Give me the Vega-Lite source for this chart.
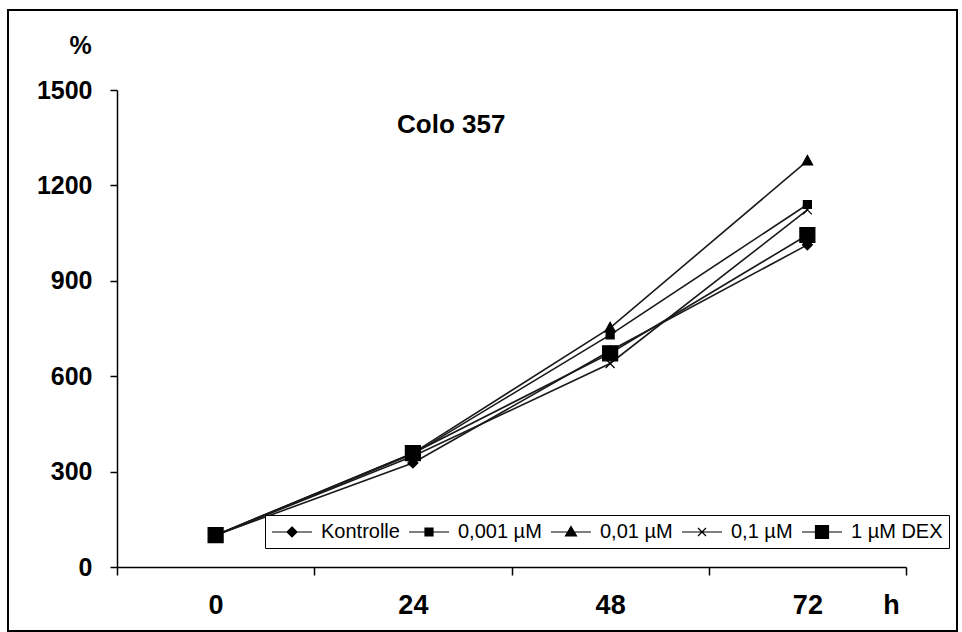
{
  "$schema": "https://vega.github.io/schema/vega-lite/v6.json",
  "autosize": {"type": "none"},
  "width": 949,
  "height": 621,
  "padding": {"left": 8, "top": 10, "right": 5, "bottom": 1},
  "background": "white",
  "config": {
    "view": {"stroke": "black", "strokeWidth": 2},
    "font": "Liberation Sans"
  },
  "title": {
    "text": "Colo 357",
    "anchor": "start",
    "frame": "group",
    "orient": "top",
    "offset": 0,
    "dx": 389,
    "dy": 149,
    "baseline": "alphabetic",
    "fontSize": 26,
    "fontWeight": "bold",
    "font": "Liberation Sans",
    "color": "black"
  },
  "data": {
    "values": [
      {"h": "0", "series": "Kontrolle", "v": 100},
      {"h": "24", "series": "Kontrolle", "v": 327},
      {"h": "48", "series": "Kontrolle", "v": 680},
      {"h": "72", "series": "Kontrolle", "v": 1013},
      {"h": "0", "series": "0,001 µM", "v": 100},
      {"h": "24", "series": "0,001 µM", "v": 355},
      {"h": "48", "series": "0,001 µM", "v": 730},
      {"h": "72", "series": "0,001 µM", "v": 1140},
      {"h": "0", "series": "0,01 µM", "v": 100},
      {"h": "24", "series": "0,01 µM", "v": 358},
      {"h": "48", "series": "0,01 µM", "v": 752},
      {"h": "72", "series": "0,01 µM", "v": 1277},
      {"h": "0", "series": "0,1 µM", "v": 100},
      {"h": "24", "series": "0,1 µM", "v": 348},
      {"h": "48", "series": "0,1 µM", "v": 640},
      {"h": "72", "series": "0,1 µM", "v": 1123},
      {"h": "0", "series": "1 µM DEX", "v": 100},
      {"h": "24", "series": "1 µM DEX", "v": 358},
      {"h": "48", "series": "1 µM DEX", "v": 672},
      {"h": "72", "series": "1 µM DEX", "v": 1044}
    ]
  },
  "encoding": {
    "x": {
      "field": "h",
      "type": "ordinal",
      "sort": ["0", "24", "48", "72"],
      "bandPosition": 0.5,
      "scale": {"type": "band", "range": [109, 898], "paddingInner": 0, "paddingOuter": 0},
      "axis": {
        "orient": "bottom",
        "offset": -64,
        "domainColor": "black",
        "domainWidth": 1.5,
        "tickColor": "black",
        "tickWidth": 1.5,
        "tickSize": 8,
        "tickBand": "extent",
        "labelAngle": 0,
        "labelFont": "Liberation Sans",
        "labelFontSize": 27,
        "labelFontWeight": "bold",
        "labelColor": "black",
        "labelBaseline": "alphabetic",
        "labelPadding": 38,
        "title": "h",
        "titleX": 883,
        "titleY": 46,
        "titleAlign": "center",
        "titleBaseline": "alphabetic",
        "titleFont": "Liberation Sans",
        "titleFontSize": 27,
        "titleFontWeight": "bold",
        "titleColor": "black",
        "grid": false
      }
    },
    "y": {
      "field": "v",
      "type": "quantitative",
      "scale": {"domain": [0, 1500], "range": [557, 80], "nice": false, "zero": true},
      "axis": {
        "orient": "left",
        "offset": -109,
        "values": [0, 300, 600, 900, 1200, 1500],
        "format": "d",
        "domainColor": "black",
        "domainWidth": 1.5,
        "tickColor": "black",
        "tickWidth": 1.5,
        "tickSize": 7,
        "labelFont": "Liberation Sans",
        "labelFontSize": 25,
        "labelFontWeight": "bold",
        "labelColor": "black",
        "labelPadding": 18,
        "title": "%",
        "titleAngle": 0,
        "titleX": -37,
        "titleY": 43,
        "titleAlign": "center",
        "titleBaseline": "alphabetic",
        "titleFont": "Liberation Sans",
        "titleFontSize": 25,
        "titleFontWeight": "bold",
        "titleColor": "black",
        "grid": false
      }
    }
  },
  "layer": [
    {
      "mark": {"type": "line", "color": "#1a1a1a", "strokeWidth": 1.6},
      "encoding": {"detail": {"field": "series", "type": "nominal"}}
    },
    {
      "mark": {"type": "point", "filled": true, "fill": "black", "stroke": "black", "strokeWidth": 1.2, "opacity": 1, "size": 100},
      "encoding": {
        "shape": {
          "field": "series",
          "type": "nominal",
          "scale": {
            "domain": ["Kontrolle", "0,001 µM", "0,01 µM", "0,1 µM", "1 µM DEX"],
            "range": [
              "M0,-1L1,0L0,1L-1,0Z",
              "M-0.8,-0.8H0.8V0.8H-0.8Z",
              "M0,-1.1L1.05,0.8H-1.05Z",
              "M-0.9,-0.9L0.9,0.9M-0.9,0.9L0.9,-0.9",
              "M-1.5,-1.5H1.5V1.5H-1.5Z"
            ]
          },
          "legend": null
        }
      }
    },
    {
      "transform": [{"filter": "datum.v < 0"}],
      "mark": {"type": "point", "filled": false, "fill": "black", "stroke": "black", "strokeWidth": 1.2, "opacity": 1, "size": 400},
      "encoding": {
        "shape": {
          "field": "series",
          "type": "nominal",
          "scale": {
            "domain": ["Kontrolle", "0,001 µM", "0,01 µM", "0,1 µM", "1 µM DEX"],
            "range": [
              "M-1,0H3M1,-0.5L1.5,0L1,0.5L0.5,0Z",
              "M-1,0H3M0.6,-0.4H1.4V0.4H0.6Z",
              "M-1,0H3M1,-0.55L1.55,0.4H0.45Z",
              "M-1,0H3M0.6,-0.4L1.4,0.4M0.6,0.4L1.4,-0.4",
              "M-1,0H3M0.35,-0.65H1.65V0.65H0.35Z"
            ]
          },
          "legend": {
            "orient": "none",
            "legendX": 257,
            "legendY": 505,
            "direction": "horizontal",
            "columns": 5,
            "title": null,
            "strokeColor": "black",
            "fillColor": "white",
            "padding": 6,
            "symbolSize": 400,
            "symbolStrokeWidth": 1.2,
            "symbolOpacity": 1,
            "labelOffset": 28,
            "columnPadding": 6,
            "labelFont": "Liberation Sans",
            "labelFontSize": 20,
            "labelColor": "black"
          }
        }
      }
    }
  ],
  "resolve": {"scale": {"shape": "independent"}, "legend": {"shape": "independent"}}
}
